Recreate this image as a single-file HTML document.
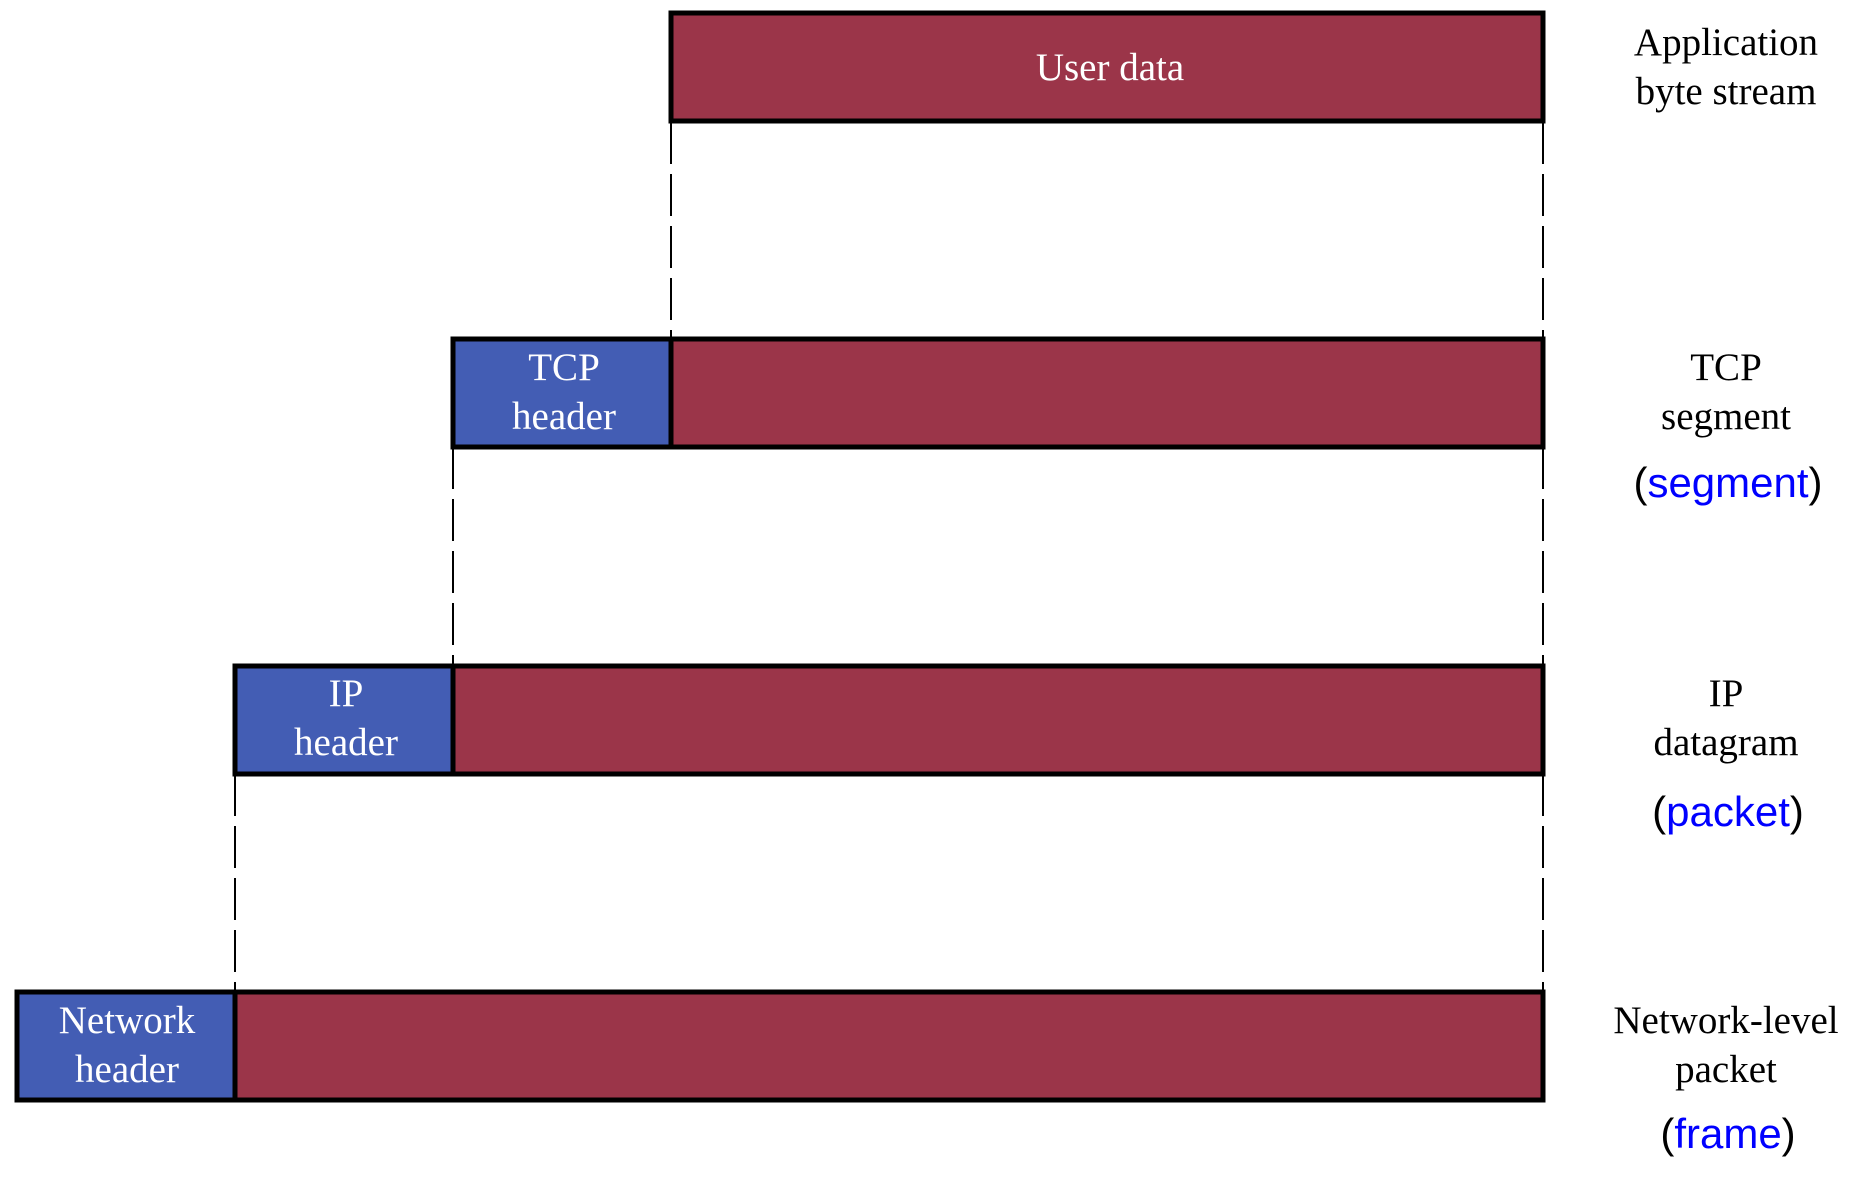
<!DOCTYPE html>
<html><head><meta charset="utf-8"><style>
html,body{margin:0;padding:0;background:#fff;}
.s{font-family:"Liberation Serif",serif;}
.p{font-family:"Liberation Sans",sans-serif;}
</style></head><body>
<svg width="1866" height="1176" viewBox="0 0 1866 1176" xmlns="http://www.w3.org/2000/svg">
<g stroke="#000" stroke-width="2" stroke-dasharray="42 10" fill="none">
<line x1="671" y1="122" x2="671" y2="339"/>
<line x1="1543" y1="122" x2="1543" y2="339"/>
<line x1="453" y1="447" x2="453" y2="666"/>
<line x1="1543" y1="447" x2="1543" y2="666"/>
<line x1="235" y1="774" x2="235" y2="992"/>
<line x1="1543" y1="774" x2="1543" y2="992"/>
</g>
<g stroke="#000" stroke-width="5">
<rect x="671" y="13" width="872" height="108" fill="#9B3549"/>
<rect x="453" y="339" width="218" height="108" fill="#435DB4"/>
<rect x="671" y="339" width="872" height="108" fill="#9B3549"/>
<rect x="235" y="666" width="218" height="108" fill="#435DB4"/>
<rect x="453" y="666" width="1090" height="108" fill="#9B3549"/>
<rect x="17" y="992" width="218" height="108" fill="#435DB4"/>
<rect x="235" y="992" width="1308" height="108" fill="#9B3549"/>
</g>
<g class="s" fill="#fff" font-size="39" text-anchor="middle">
<text x="1110" y="80">User data</text>
<text x="564" y="380">TCP</text>
<text x="564" y="429">header</text>
<text x="346" y="706">IP</text>
<text x="346" y="755">header</text>
<text x="127" y="1033">Network</text>
<text x="127" y="1082">header</text>
</g>
<g class="s" fill="#000" font-size="39" text-anchor="middle">
<text x="1726" y="55">Application</text>
<text x="1726" y="104">byte stream</text>
<text x="1726" y="380">TCP</text>
<text x="1726" y="429">segment</text>
<text x="1726" y="706">IP</text>
<text x="1726" y="755">datagram</text>
<text x="1726" y="1033">Network-level</text>
<text x="1726" y="1082">packet</text>
</g>
<g class="p" font-size="42" text-anchor="middle">
<text x="1728" y="497"><tspan fill="#000">(</tspan><tspan fill="#0000ff">segment</tspan><tspan fill="#000">)</tspan></text>
<text x="1728" y="826"><tspan fill="#000">(</tspan><tspan fill="#0000ff">packet</tspan><tspan fill="#000">)</tspan></text>
<text x="1728" y="1148"><tspan fill="#000">(</tspan><tspan fill="#0000ff">frame</tspan><tspan fill="#000">)</tspan></text>
</g>
</svg>
</body></html>
